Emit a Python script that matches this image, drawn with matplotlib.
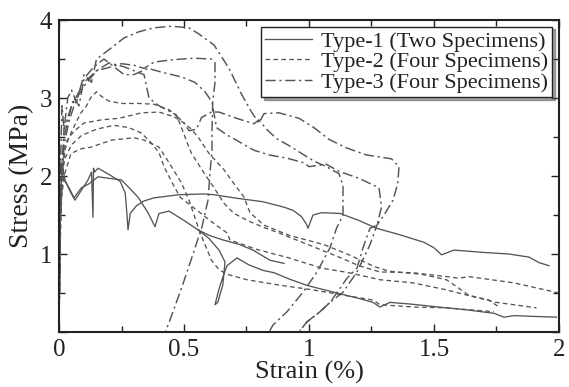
import matplotlib
matplotlib.use("Agg")
import matplotlib.pyplot as plt
from matplotlib.ticker import MultipleLocator

plt.rcParams["font.family"] = ["Liberation Serif", "DejaVu Serif"]

# Type-1 (solid), two specimens + branch
t1a_x = [0, 0.004, 0.01, 0.015, 0.024, 0.045, 0.064, 0.09, 0.116, 0.13, 0.136, 0.138, 0.142, 0.156,
         0.2, 0.245, 0.265, 0.272, 0.276, 0.285, 0.31, 0.34, 0.38, 0.48, 0.58, 0.62, 0.7, 0.816,
         0.9, 0.936, 0.97, 0.99, 0.996, 1.016, 1.05, 1.124, 1.2, 1.27, 1.36, 1.46, 1.5, 1.53,
         1.58, 1.7, 1.8, 1.88, 1.92, 1.96]
t1a_y = [0, 1.3, 1.95, 2.1, 1.95, 1.8, 1.69, 1.82, 1.95, 2.05, 1.47, 2.1, 2.05, 2.1,
         2.02, 1.93, 1.78, 1.5, 1.31, 1.52, 1.62, 1.68, 1.72, 1.76, 1.77, 1.76, 1.72, 1.67,
         1.6, 1.56, 1.48, 1.38, 1.33, 1.5, 1.53, 1.52, 1.43, 1.33, 1.25, 1.15, 1.08, 0.99,
         1.05, 1.02, 1.0, 0.96, 0.89, 0.85]
t1b_x = [0, 0.005, 0.01, 0.02, 0.04, 0.06, 0.09, 0.12, 0.156, 0.2, 0.25, 0.316, 0.356, 0.384,
         0.4, 0.44, 0.5, 0.556, 0.6, 0.64, 0.664, 0.655, 0.635, 0.624, 0.64, 0.66, 0.672, 0.712,
         0.76, 0.816, 0.86, 0.92, 0.99, 1.05, 1.112, 1.2, 1.256, 1.284, 1.324, 1.4, 1.52, 1.64,
         1.74, 1.78, 1.82, 1.9, 1.99]
t1b_y = [0, 1.5, 2.0, 1.95, 1.85, 1.72, 1.85, 1.9, 1.99, 1.97, 1.95, 1.73, 1.53, 1.35,
         1.52, 1.55, 1.43, 1.31, 1.2, 1.05, 0.9, 0.6, 0.38, 0.35, 0.55, 0.75, 0.85, 0.95,
         0.86, 0.79, 0.76, 0.68, 0.6, 0.55, 0.5, 0.43, 0.38, 0.32, 0.38, 0.36, 0.32, 0.28,
         0.24, 0.19, 0.21, 0.2, 0.19]
t1c_x = [0.556, 0.6, 0.656, 0.724, 0.776, 0.844, 0.9]
t1c_y = [1.31, 1.24, 1.18, 1.12, 1.05, 0.92, 0.88]

# Type-2 (dashed), four specimens
t2a_x = [0, 0.004, 0.008, 0.015, 0.025, 0.048, 0.07, 0.088, 0.11, 0.128, 0.15, 0.17, 0.2, 0.25,
         0.32, 0.38, 0.44, 0.47, 0.49, 0.51, 0.53, 0.58, 0.62, 0.66, 0.7, 0.76, 0.82, 0.88, 0.95,
         1.02, 1.12, 1.2, 1.284, 1.416, 1.55, 1.6, 1.64, 1.82, 2.0]
t2a_y = [0, 1.6, 2.2, 2.0, 2.4, 2.55, 2.7, 2.81, 2.9, 3.01, 3.08, 3.02, 2.96, 2.93,
         2.93, 2.92, 2.85, 2.78, 2.62, 2.45, 2.29, 2.04, 1.85, 1.65, 1.52, 1.42, 1.34, 1.27, 1.18,
         1.09, 0.96, 0.85, 0.77, 0.76, 0.71, 0.69, 0.71, 0.63, 0.5]
t2b_x = [0, 0.004, 0.01, 0.02, 0.04, 0.07, 0.1, 0.17, 0.24, 0.33, 0.4, 0.46, 0.5, 0.53, 0.556,
         0.6, 0.66, 0.7, 0.74, 0.764, 0.82, 0.92, 1.06, 1.16, 1.26, 1.32, 1.45, 1.55, 1.6, 1.64,
         1.72, 1.76]
t2b_y = [0, 1.4, 2.0, 2.3, 2.5, 2.6, 2.68, 2.72, 2.74, 2.81, 2.82, 2.76, 2.68, 2.6, 2.5,
         2.29, 2.08, 1.9, 1.73, 1.53, 1.37, 1.24, 1.12, 0.99, 0.84, 0.78, 0.74, 0.67, 0.56, 0.47,
         0.41, 0.32]
t2c_x = [0, 0.004, 0.01, 0.02, 0.05, 0.09, 0.15, 0.22, 0.28, 0.33, 0.37, 0.4, 0.42, 0.45, 0.484,
         0.552, 0.616, 0.672, 0.684, 0.79, 0.92, 1.05, 1.16, 1.284, 1.416, 1.55, 1.66, 1.75, 1.91]
t2c_y = [0, 1.2, 1.9, 2.2, 2.4, 2.52, 2.6, 2.65, 2.62, 2.55, 2.42, 2.3, 2.12, 1.93, 1.73,
         1.56, 1.4, 1.27, 1.18, 1.06, 0.95, 0.82, 0.76, 0.67, 0.63, 0.54, 0.45, 0.38, 0.31]
t2d_x = [0, 0.004, 0.01, 0.02, 0.048, 0.09, 0.128, 0.21, 0.3, 0.34, 0.4, 0.45, 0.49, 0.52, 0.556,
         0.58, 0.61, 0.64, 0.672, 0.752, 0.884, 1.016, 1.124, 1.256, 1.284, 1.42, 1.55, 1.74]
t2d_y = [0, 1.0, 1.7, 2.0, 2.29, 2.35, 2.37, 2.46, 2.49, 2.46, 2.37, 2.12, 1.91, 1.69, 1.35,
         1.15, 0.92, 0.8, 0.74, 0.67, 0.6, 0.54, 0.48, 0.41, 0.35, 0.32, 0.31, 0.26]

# Type-3 (dash-dot), four specimens
t3a_x = [0, 0.005, 0.012, 0.02, 0.035, 0.05, 0.07, 0.1, 0.13, 0.15, 0.2, 0.26, 0.32, 0.38, 0.45,
         0.52, 0.56, 0.62, 0.68, 0.73, 0.77, 0.8, 0.82, 0.88, 0.96, 1.02, 1.08, 1.15, 1.23, 1.33,
         1.36, 1.355, 1.336, 1.3, 1.272, 1.244, 1.192, 1.136, 1.084, 1.044, 0.992, 0.96]
t3a_y = [0, 2.0, 2.9, 2.6, 3.0, 3.1, 2.95, 3.3, 3.2, 3.5, 3.62, 3.77, 3.85, 3.9, 3.92,
         3.9, 3.82, 3.68, 3.38, 3.05, 2.82, 2.68, 2.8, 2.81, 2.74, 2.62, 2.47, 2.36, 2.27, 2.22,
         2.12, 1.9, 1.69, 1.5, 1.37, 1.12, 0.77, 0.51, 0.38, 0.26, 0.13, 0.0]
t3b_x = [0, 0.005, 0.02, 0.05, 0.1, 0.15, 0.21, 0.25, 0.3, 0.34, 0.38, 0.45, 0.54, 0.61, 0.624,
         0.624, 0.615, 0.612, 0.612, 0.604, 0.596, 0.572, 0.532, 0.492, 0.44, 0.425]
t3b_y = [0, 1.8, 2.5, 2.9, 3.2, 3.35, 3.4, 3.44, 3.42, 3.38, 3.46, 3.49, 3.51, 3.5, 3.45,
         3.2, 2.95, 2.6, 2.33, 2.04, 1.69, 1.35, 0.96, 0.58, 0.12, 0.0]
t3c_x = [0, 0.005, 0.02, 0.04, 0.06, 0.08, 0.1, 0.14, 0.18, 0.22, 0.26, 0.3, 0.356, 0.412, 0.49,
         0.544, 0.584, 0.612, 0.63, 0.67, 0.72, 0.78, 0.84, 0.91, 0.98, 1.0, 1.07, 1.12, 1.2,
         1.28, 1.29, 1.272, 1.244, 1.216, 1.192, 1.152, 1.124, 1.084, 1.044, 0.992, 0.964]
t3c_y = [0, 1.6, 2.6, 2.8, 3.0, 2.9, 3.25, 3.4, 3.5, 3.4, 3.3, 3.3, 3.38, 3.33, 3.27,
         3.2, 3.08, 2.95, 2.62, 2.53, 2.44, 2.33, 2.27, 2.23, 2.17, 2.12, 2.15, 2.06, 1.97,
         1.85, 1.6, 1.37, 1.33, 1.08, 0.82, 0.69, 0.56, 0.38, 0.26, 0.13, 0.02]
t3d_x = [0, 0.005, 0.02, 0.04, 0.06, 0.08, 0.1, 0.15, 0.2, 0.26, 0.34, 0.36, 0.4, 0.46, 0.5,
         0.52, 0.55, 0.57, 0.61, 0.64, 0.71, 0.78, 0.8, 0.83, 0.87, 0.92, 0.96, 1.02, 1.07, 1.12,
         1.136, 1.136, 1.11, 1.084, 1.032, 0.976, 0.912, 0.856, 0.84]
t3d_y = [0, 1.4, 2.4, 2.7, 2.9, 3.05, 3.15, 3.35, 3.45, 3.4, 3.3, 3.0, 2.9, 2.8, 2.68,
         2.58, 2.6, 2.75, 2.82, 2.82, 2.74, 2.67, 2.72, 2.6, 2.48, 2.39, 2.31, 2.19, 2.12, 2.03,
         1.88, 1.5, 1.33, 1.08, 0.77, 0.51, 0.26, 0.09, 0.0]

x_ticks = [0, 0.5, 1, 1.5, 2]
x_tick_labels = ["0", "0.5", "1", "1.5", "2"]
y_ticks = [0, 1, 2, 3, 4]
y_tick_labels = ["", "1", "2", "3", "4"]

fig = plt.figure(figsize=(5.69, 3.87), dpi=100)
ax = fig.add_axes([0.1037, 0.1421, 0.8787, 0.8062])

line_col = "#555555"
solid = dict(color=line_col, linewidth=0.95, linestyle="-")
dashed = dict(color=line_col, linewidth=0.95, linestyle=(0, (3.5, 2.5)))
dashdot = dict(color=line_col, linewidth=1.05, linestyle=(0, (7, 2.5, 1.5, 2.5)))

ax.plot(t1a_x, t1a_y, label="Type-1 (Two Specimens)", **solid)
ax.plot(t1b_x, t1b_y, **solid)
ax.plot(t1c_x, t1c_y, **solid)

ax.plot(t2a_x, t2a_y, label="Type-2 (Four Specimens)", **dashed)
ax.plot(t2b_x, t2b_y, **dashed)
ax.plot(t2c_x, t2c_y, **dashed)
ax.plot(t2d_x, t2d_y, **dashed)

ax.plot(t3a_x, t3a_y, label="Type-3 (Four Specimens)", **dashdot)
ax.plot(t3b_x, t3b_y, **dashdot)
ax.plot(t3c_x, t3c_y, **dashdot)
ax.plot(t3d_x, t3d_y, **dashdot)

ax.set_xlim(0, 2)
ax.set_ylim(0, 4)
ax.set_xticks(x_ticks)
ax.set_xticklabels(x_tick_labels)
ax.set_yticks(y_ticks)
ax.set_yticklabels(y_tick_labels)
ax.xaxis.set_minor_locator(MultipleLocator(0.25))
ax.yaxis.set_minor_locator(MultipleLocator(0.5))
ax.tick_params(which="both", direction="in", top=True, right=True,
               labelsize=18, colors="#222222", width=1.0)
ax.tick_params(which="major", length=6, pad=5)
ax.tick_params(which="minor", length=4)
for sp in ax.spines.values():
    sp.set_linewidth(1.5)
    sp.set_color("#222222")

ax.set_xlabel("Strain (%)", fontsize=19, color="#222222", labelpad=0)
ax.set_ylabel("Stress (MPa)", fontsize=20, color="#222222", labelpad=4)

leg = ax.legend(loc="upper right", fontsize=16, frameon=True, fancybox=False,
                shadow=True, edgecolor="#222222", handlelength=2.1,
                borderaxespad=0.3, borderpad=0.2, labelspacing=0.0,
                handletextpad=0.4)
leg.get_frame().set_linewidth(1.0)
for t in leg.get_texts():
    t.set_color("#222222")

fig.savefig("out.png", dpi=100)
